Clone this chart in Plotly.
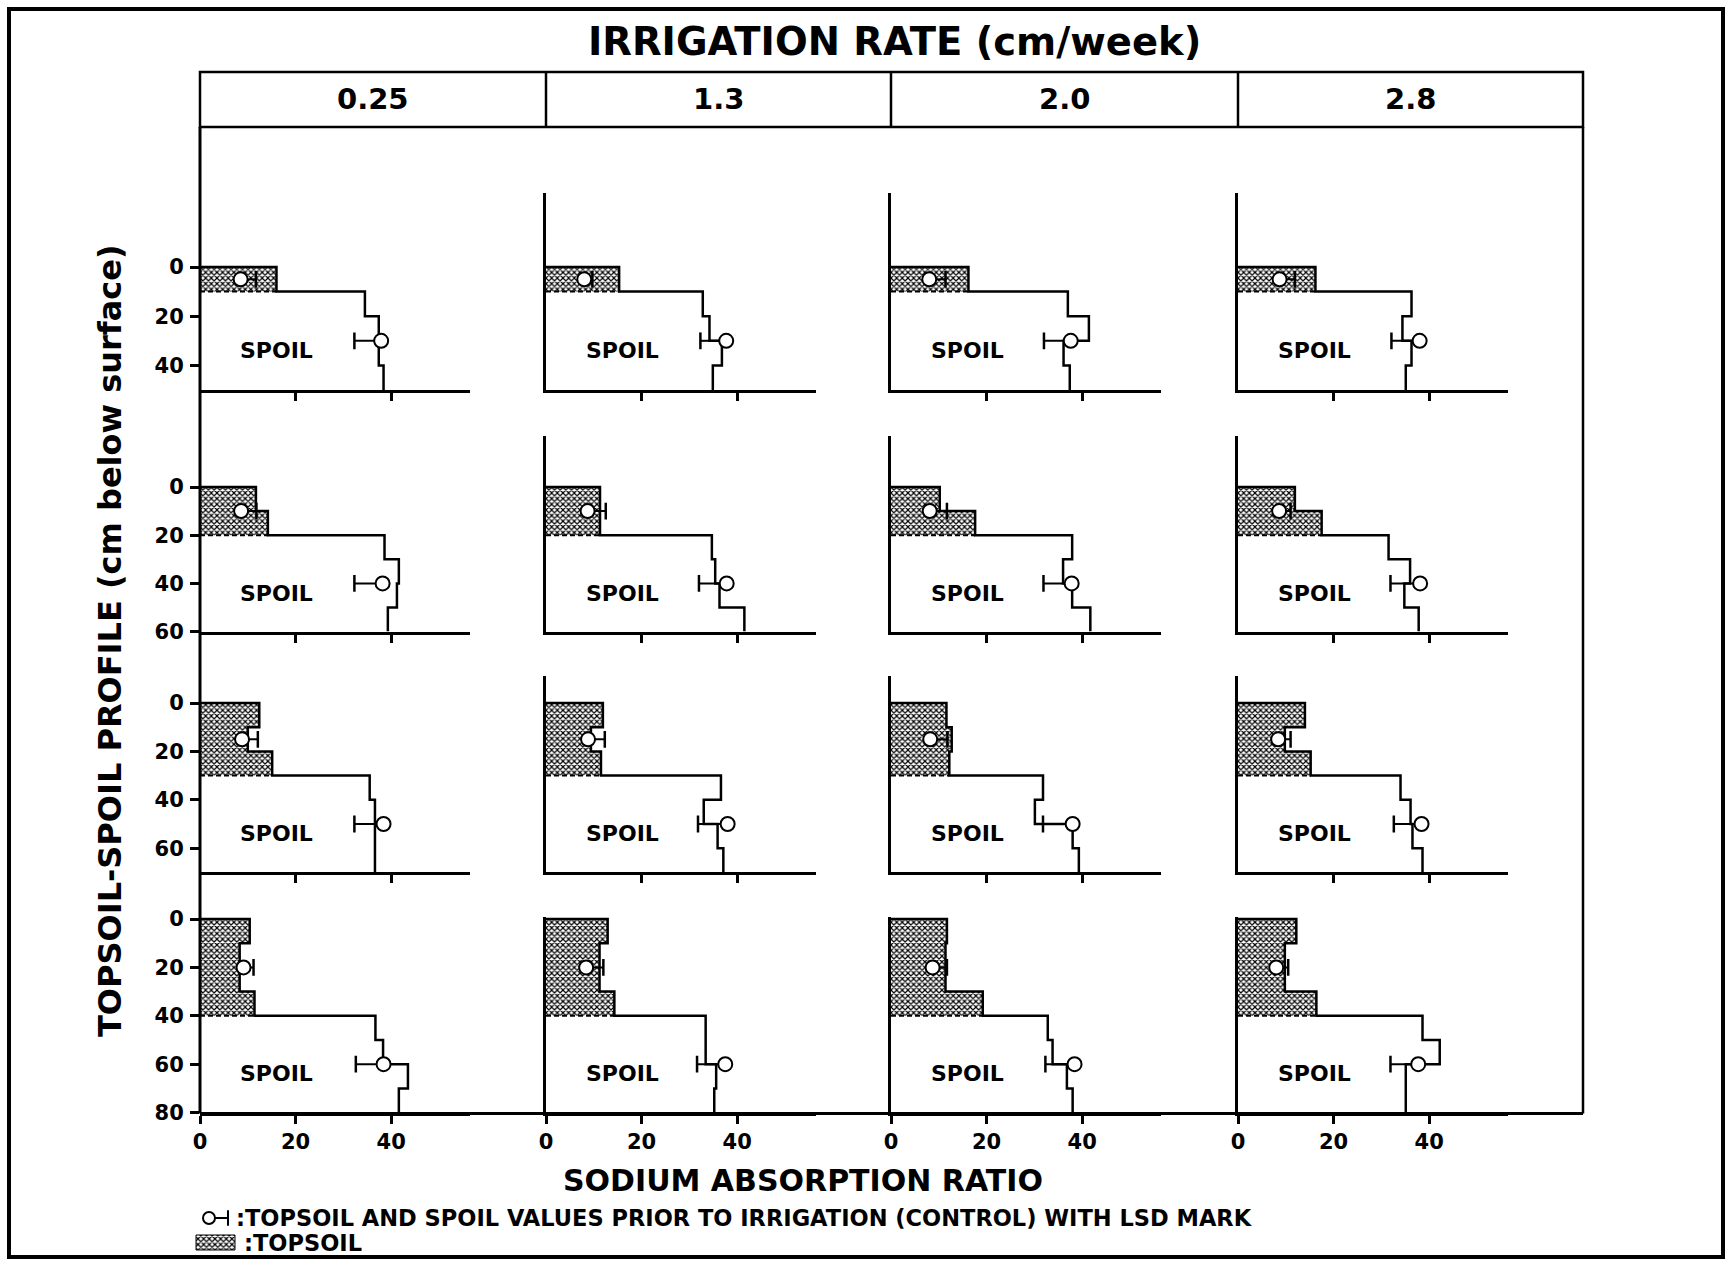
import plotly.graph_objects as go

W, H = 1732, 1264

# ---------------- data ----------------
rates = ["0.25", "1.3", "2.0", "2.8"]            # irrigation rate (cm/week), columns
topsoil_depth = [10, 20, 30, 40]                  # topsoil thickness per row (cm)
profile_bottom = [50, 60, 70, 80]                 # profile depth per row (cm)
layer_cm = 10                                     # sampling layer thickness

# SAR per 10-cm layer inside the topsoil [row][col]
topsoil_sar = [
    [[16.0], [15.3], [16.2], [16.2]],
    [[11.7, 14.2], [11.3, 11.3], [10.2, 17.6], [11.9, 17.5]],
    [[12.4, 10.0, 15.1], [11.9, 9.4, 11.5], [11.6, 12.7, 12.2], [14.0, 9.8, 15.2]],
    [[10.4, 8.3, 8.3, 11.4], [12.9, 11.2, 11.2, 14.3], [11.7, 11.4, 11.4, 19.2], [12.2, 9.8, 9.8, 16.4]],
]
# SAR per 10-cm layer inside the spoil [row][col]
spoil_sar = [
    [[34.5, 37.4, 37.4, 38.4], [32.8, 34.2, 36.8, 34.9], [37.0, 41.4, 36.1, 37.4], [36.3, 34.4, 36.3, 35.1]],
    [[38.6, 41.6, 41.2, 39.3], [34.7, 35.4, 36.3, 41.5], [37.9, 36.0, 37.9, 41.7], [31.5, 36.0, 34.8, 37.8]],
    [[35.5, 36.6, 36.6, 36.6], [36.6, 33.0, 35.9, 37.1], [31.8, 30.1, 38.0, 39.3], [34.0, 36.1, 36.5, 38.6]],
    [[36.7, 38.3, 43.5, 41.6], [33.4, 33.4, 35.6, 35.2], [32.8, 33.8, 36.8, 38.0], [38.6, 42.2, 35.1, 35.1]],
]
# control (prior to irrigation) values with LSD
ctrl_top_depth = [5, 10, 15, 20]
ctrl_top_sar = [[8.5, 8.0, 8.0, 8.7], [8.6, 8.7, 8.1, 8.6], [8.8, 8.8, 8.2, 8.4], [9.1, 8.4, 8.7, 8.0]]
ctrl_top_lsd = [[3.2, 1.7, 3.4, 3.2], [3.2, 3.8, 3.6, 2.4], [3.3, 3.5, 3.6, 2.6], [2.1, 3.6, 3.0, 2.5]]
ctrl_spoil_depth = [30, 40, 50, 60]
ctrl_spoil_sar = [[37.9, 37.7, 37.6, 38.0], [38.2, 37.8, 37.8, 38.1], [38.4, 38.0, 38.0, 38.4], [38.4, 37.5, 38.4, 37.7]]
ctrl_spoil_lsd = [[5.6, 5.4, 5.6, 5.9], [5.9, 5.8, 5.9, 6.2], [6.1, 6.2, 6.2, 5.8], [5.8, 5.9, 6.1, 5.8]]

x_ticks = [0, 20, 40]
y_ticks = [[0, 20, 40], [0, 20, 40, 60], [0, 20, 40, 60], [0, 20, 40, 60, 80]]

# ---------------- layout geometry (pixels) ----------------
col_x0 = [200, 546, 891, 1238]
x_max = 56.5
px_per_sar = 4.78
row_y0 = [267, 487, 703, 919]
row_ppc = [2.46, 2.41, 2.42, 2.42]
row_top = [-30, -21, -11, -1]
header_top, header_bot = 72, 127
frame_right = 1583

FONT = "DejaVu Sans"
hatch = dict(shape="x", size=4, solidity=0.5, fgcolor="black", bgcolor="white")
tick_font = dict(family=FONT, size=21, color="black", weight="bold")

fig = go.Figure()
axes = {}
annotations = []
shapes = []


def px(xp):
    return xp / W


def py(yp):
    return 1 - yp / H


for r in range(4):
    top_px = row_y0[r] + row_top[r] * row_ppc[r]
    bot_px = row_y0[r] + profile_bottom[r] * row_ppc[r]
    for c in range(4):
        n = r * 4 + c + 1
        s = "" if n == 1 else str(n)
        xa, ya = "x" + s, "y" + s
        x0 = col_x0[c]
        x1 = x0 + x_max * px_per_sar
        axes["xaxis" + s] = dict(
            domain=[px(x0), px(x1)], range=[0, x_max], anchor=ya, automargin=False,
            showline=True, linewidth=3, linecolor="black", mirror=False,
            ticks="outside", ticklen=8, tickwidth=3, tickcolor="black",
            tickvals=x_ticks if r == 3 else x_ticks[1:],
            showticklabels=(r == 3), ticklabelstandoff=0,
            tickfont=tick_font,
            showgrid=False, zeroline=False, fixedrange=True,
        )
        axes["yaxis" + s] = dict(
            domain=[py(bot_px), py(top_px)], range=[profile_bottom[r], row_top[r]], anchor=xa,
            automargin=False,
            showline=(c != 0), linewidth=3, linecolor="black",
            ticks="outside" if c == 0 else "", ticklen=9, tickwidth=3, tickcolor="black",
            tickvals=y_ticks[r], showticklabels=(c == 0), ticklabelstandoff=2,
            tickfont=tick_font,
            showgrid=False, zeroline=False, fixedrange=True,
        )

        tv = topsoil_sar[r][c]
        sv = spoil_sar[r][c]
        td = topsoil_depth[r]
        lx, ly = [0], [0]
        d = 0
        for v in tv:
            lx += [v, v]
            ly += [d, d + layer_cm]
            d += layer_cm
        # topsoil hatched area
        fig.add_trace(go.Scatter(x=lx + [0], y=ly + [td], xaxis=xa, yaxis=ya, fill="toself",
                                 mode="none", fillpattern=hatch, fillcolor="white",
                                 hoverinfo="skip", showlegend=False))
        # dashed topsoil/spoil boundary
        fig.add_trace(go.Scatter(x=[0, tv[-1]], y=[td, td], xaxis=xa, yaxis=ya, mode="lines",
                                 line=dict(color="black", width=2, dash="5px,3px"),
                                 hoverinfo="skip", showlegend=False))
        # step profile
        for v in sv:
            lx += [v, v]
            ly += [d, d + layer_cm]
            d += layer_cm
        fig.add_trace(go.Scatter(x=lx, y=ly, xaxis=xa, yaxis=ya, mode="lines",
                                 line=dict(color="black", width=2.5),
                                 hoverinfo="skip", showlegend=False))
        # control values with LSD bars
        for sar, lsd, dep, sign in [
            (ctrl_top_sar[r][c], ctrl_top_lsd[r][c], ctrl_top_depth[r], 1),
            (ctrl_spoil_sar[r][c], ctrl_spoil_lsd[r][c], ctrl_spoil_depth[r], -1),
        ]:
            end = sar + sign * lsd
            fig.add_trace(go.Scatter(x=[sar, end], y=[dep, dep], xaxis=xa, yaxis=ya, mode="lines",
                                     line=dict(color="black", width=2),
                                     hoverinfo="skip", showlegend=False))
            fig.add_trace(go.Scatter(x=[end], y=[dep], xaxis=xa, yaxis=ya, mode="markers",
                                     marker=dict(symbol="line-ns", size=12,
                                                 line=dict(color="black", width=2.5)),
                                     hoverinfo="skip", showlegend=False))
            fig.add_trace(go.Scatter(x=[sar], y=[dep], xaxis=xa, yaxis=ya, mode="markers",
                                     marker=dict(symbol="circle", size=14, color="white",
                                                 line=dict(color="black", width=2)),
                                     hoverinfo="skip", showlegend=False))
        annotations.append(dict(x=16, y=profile_bottom[r] - 16, xref=xa, yref=ya,
                                xanchor="center", yanchor="middle",
                                text="<b>SPOIL</b>", showarrow=False,
                                font=dict(family=FONT, size=22, color="black")))

# overlay pixel axes for the legend key
axes["xaxis17"] = dict(domain=[0, 1], range=[0, W], visible=False, fixedrange=True, anchor="y17",
                       automargin=False)
axes["yaxis17"] = dict(domain=[0, 1], range=[H, 0], visible=False, fixedrange=True, anchor="x17",
                       automargin=False)
fig.add_trace(go.Scatter(x=[209, 228], y=[1218, 1218], xaxis="x17", yaxis="y17", mode="lines",
                         line=dict(color="black", width=2), hoverinfo="skip", showlegend=False))
fig.add_trace(go.Scatter(x=[228], y=[1218], xaxis="x17", yaxis="y17", mode="markers",
                         marker=dict(symbol="line-ns", size=11, line=dict(color="black", width=2)),
                         hoverinfo="skip", showlegend=False))
fig.add_trace(go.Scatter(x=[209], y=[1218], xaxis="x17", yaxis="y17", mode="markers",
                         marker=dict(symbol="circle", size=12, color="white",
                                     line=dict(color="black", width=2)),
                         hoverinfo="skip", showlegend=False))
fig.add_trace(go.Scatter(x=[196, 235, 235, 196, 196], y=[1235, 1235, 1250, 1250, 1235],
                         xaxis="x17", yaxis="y17", mode="lines", fill="toself",
                         fillpattern=hatch, fillcolor="white",
                         line=dict(color="black", width=1), hoverinfo="skip", showlegend=False))

# frame, header box and continuous lines
bottom_px = row_y0[3] + profile_bottom[3] * row_ppc[3]
shapes.append(dict(type="rect", xref="paper", yref="paper", x0=px(9), x1=px(1723), y0=py(9), y1=py(1257),
                   line=dict(color="black", width=4)))
shapes.append(dict(type="rect", xref="paper", yref="paper", x0=px(col_x0[0]), x1=px(frame_right),
                   y0=py(header_top), y1=py(header_bot), line=dict(color="black", width=2.5)))
for c in range(1, 4):
    shapes.append(dict(type="line", xref="paper", yref="paper", x0=px(col_x0[c]), x1=px(col_x0[c]),
                       y0=py(header_top), y1=py(header_bot), line=dict(color="black", width=2.5)))
shapes.append(dict(type="line", xref="paper", yref="paper", x0=px(col_x0[0]), x1=px(col_x0[0]),
                   y0=py(header_bot), y1=py(bottom_px + 1), line=dict(color="black", width=3)))
shapes.append(dict(type="line", xref="paper", yref="paper", x0=px(frame_right), x1=px(frame_right),
                   y0=py(header_bot), y1=py(bottom_px + 1), line=dict(color="black", width=2.5)))
shapes.append(dict(type="line", xref="paper", yref="paper", x0=px(col_x0[0]), x1=px(frame_right),
                   y0=py(bottom_px + 1), y1=py(bottom_px + 1), line=dict(color="black", width=3)))

# texts
def note(x, y, text, size, xanchor="center", angle=0):
    annotations.append(dict(x=px(x), y=py(y), xref="paper", yref="paper", showarrow=False,
                            xanchor=xanchor, yanchor="middle", textangle=angle, text=text,
                            font=dict(family=FONT, size=size, color="black")))


note(895, 42, "<b>IRRIGATION RATE (cm/week)</b>", 38.5)
cells = col_x0 + [frame_right]
for c in range(4):
    note((cells[c] + cells[c + 1]) / 2, 99, "<b>%s</b>" % rates[c], 29)
note(110, 641, "<b>TOPSOIL-SPOIL PROFILE (cm below surface)</b>", 32, angle=-90)
note(803, 1180, "<b>SODIUM ABSORPTION RATIO</b>", 30)
note(234, 1218, "<b>:TOPSOIL AND SPOIL VALUES PRIOR TO IRRIGATION (CONTROL) WITH LSD MARK</b>", 22.5,
     xanchor="left")
note(242, 1243, "<b>:TOPSOIL</b>", 22.5, xanchor="left")

fig.update_layout(
    template="none",
    width=W, height=H, margin=dict(l=0, r=0, t=0, b=0, pad=0, autoexpand=False),
    paper_bgcolor="white", plot_bgcolor="rgba(0,0,0,0)",
    font=dict(family=FONT, color="black"),
    showlegend=False, annotations=annotations, shapes=shapes, **axes,
)

fig.write_html("out.html", config={"displayModeBar": False, "responsive": False},
               post_script="document.documentElement.style.margin='0';"
                           "document.body.style.margin='0';document.body.style.padding='0';"
                           "document.body.style.overflow='hidden';")
